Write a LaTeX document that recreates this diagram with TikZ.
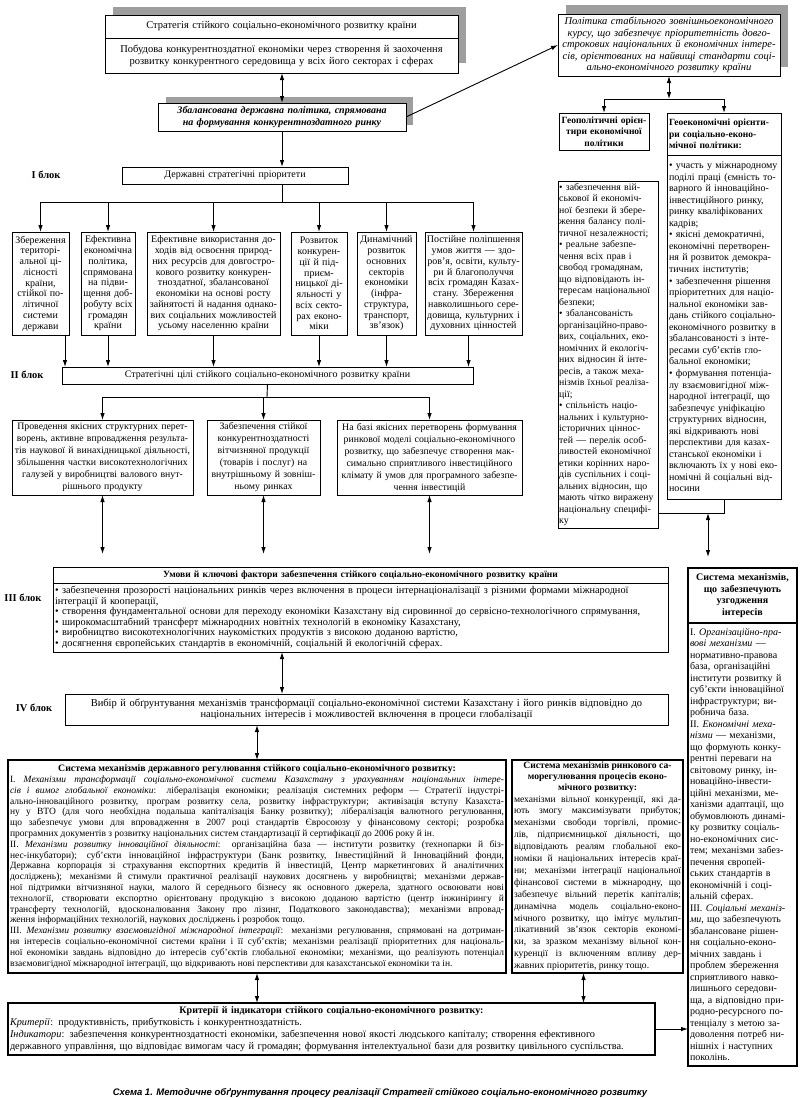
\documentclass[tikz,border=0pt]{standalone}
\usepackage{fontspec}
\setmainfont{Liberation Serif}
\newfontfamily\capfont{Liberation Sans}
\usetikzlibrary{arrows.meta}
\setlength\parindent{0pt}
\newcommand\fs[2]{\fontsize{#1}{#2}\selectfont}
\tikzset{
  bx/.style={draw, line width=1pt, fill=white, anchor=north west, inner xsep=2pt, inner ysep=1pt, outer sep=0pt},
  bxs/.style={bx, inner xsep=1.5pt},
  arr/.style={-{Latex[length=7pt,width=4.5pt]}, line width=0.9pt},
  darr/.style={{Latex[length=7pt,width=4.5pt]}-{Latex[length=7pt,width=4.5pt]}, line width=0.9pt},
  ln/.style={line width=0.9pt},
  shd/.style={fill=black!38},
  lbl/.style={font=\fs{10.5}{12}\bfseries}
}
\begin{document}
\begin{tikzpicture}[x=1pt,y=-1pt]
\fill[white] (0,0) rectangle (800,1098);
\useasboundingbox (0,0) rectangle (800,1098);

% ---------- top ----------
\fill[shd] (113,7) rectangle (466,63);
\node[bx, minimum width=353pt, minimum height=23pt, text width=349pt, align=center, font=\fs{10.5}{12}] (T1a) at (105,15)
 {Стратегія стійкого соціально-економічного розвитку країни};
\node[bx, minimum width=353pt, minimum height=35pt, text width=349pt, align=center, font=\fs{10.5}{12}] (T1b) at (105,38)
 {Побудова конкурентноздатної економіки через створення й заохочення\\розвитку конкурентного середовища у всіх його секторах і сферах};

\fill[shd] (166,97) rectangle (413,125);
\node[bx, minimum width=248pt, minimum height=28pt, text width=244pt, align=center, font=\fs{10}{11.5}\bfseries\itshape] (T2) at (158,103)
 {Збалансована державна політика, спрямована\\на формування конкурентноздатного ринку};

\fill[shd] (566,5) rectangle (788,67);
\node[bx, minimum width=222pt, minimum height=62pt, text width=218pt, align=center, font=\fs{10.5}{11.6}\itshape] (P) at (558,14)
 {Політика стабільного зовнішньоекономічного\\курсу, що забезпечує пріоритетність довго-\\строкових національних й економічних інтере-\\сів, орієнтованих на найвищі стандарти соці-\\ально-економічного розвитку країни};

% ---------- right column ----------
\node[bxs, minimum width=90pt, minimum height=37pt, text width=87pt, align=center, font=\fs{9.5}{11.5}\bfseries] (G1) at (559,113)
 {Геополітичні орієн-\\тири економічної\\політики};
\node[bx, minimum width=114pt, minimum height=42pt, text width=110pt, align=left, font=\fs{9.5}{11.5}\bfseries] (G2h) at (667,113)
 {Геоекономічні орієнти-\\ри соціально-еконо-\\мічної політики:};
\node[bx, minimum width=114pt, minimum height=344pt, text width=110pt, align=left, font=\fs{10}{11.55}] (G2L) at (667,155)
 {• участь у міжнародному\\поділі праці (ємність то-\\варного й інноваційно-\\інвестиційного ринку,\\ринку кваліфікованих\\кадрів;\\• якісні демократичні,\\економічні перетворен-\\ня й розвиток демокра-\\тичних інститутів;\\• забезпечення рішення\\пріоритетних для націо-\\нальної економіки зав-\\дань стійкого соціально-\\економічного розвитку в\\збалансованості з інте-\\ресами суб’єктів гло-\\бальної економіки;\\• формування потенціа-\\лу взаємовигідної між-\\народної інтеграції, що\\забезпечує уніфікацію\\структурних відносин,\\які відкривають нові\\перспективи для казах-\\станської економіки і\\включають їх у нові еко-\\номічні й соціальні від-\\носини};
\node[bx, inner xsep=1.2pt, minimum width=100pt, minimum height=347pt, text width=97.6pt, align=left, font=\fs{9.8}{11.5}] (G1L) at (558,181)
 {• забезпечення вій-\\ськової й економіч-\\ної безпеки й збере-\\ження балансу полі-\\тичної незалежності;\\• реальне забезпе-\\чення всіх прав і\\свобод громадянам,\\що відповідають ін-\\тересам національної\\безпеки;\\• збалансованість\\організаційно-право-\\вих, соціальних, еко-\\номічних й екологіч-\\них відносин й інте-\\ресів, а також меха-\\нізмів їхньої реаліза-\\ції;\\• спільність націо-\\нальних і культурно-\\історичних ціннос-\\тей — перелік особ-\\ливостей економічної\\етики корінних наро-\\дів суспільних і соці-\\альних відносин, що\\мають чітко виражену\\національну специфі-\\ку};

% ---------- block I ----------
\node[lbl] (L1) at (46,175) {I блок};
\node[bx, minimum width=226pt, minimum height=17pt, text width=222pt, align=center, font=\fs{10}{12}] (DSP) at (122,167)
 {Державні стратегічні пріоритети};

\node[bxs, minimum width=57pt, minimum height=103pt, text width=54pt, align=center, font=\fs{10}{10.75}] (B1) at (12,232)
 {Збереження\\територі-\\альної ці-\\лісності\\країни,\\стійкої по-\\літичної\\системи\\держави};
\node[bxs, minimum width=54pt, minimum height=103pt, text width=51pt, align=center, font=\fs{10}{10.75}] (B2) at (81,232)
 {Ефективна\\економічна\\політика,\\спрямована\\на підви-\\щення доб-\\робуту всіх\\громадян\\країни};
\node[bxs, minimum width=133pt, minimum height=103pt, text width=130pt, align=center, font=\fs{10}{10.75}] (B3) at (147,232)
 {Ефективне використання до-\\ходів від освоєння природ-\\них ресурсів для довгостро-\\кового розвитку конкурен-\\тноздатної, збалансованої\\економіки на основі росту\\зайнятості й надання однако-\\вих соціальних можливостей\\усьому населенню країни};
\node[bxs, minimum width=56pt, minimum height=103pt, text width=53pt, align=center, font=\fs{10}{10.75}] (B4) at (291,232)
 {Розвиток\\конкурен-\\ції й під-\\приєм-\\ницької ді-\\яльності у\\всіх секто-\\рах еконо-\\міки};
\node[bxs, minimum width=59pt, minimum height=103pt, text width=56pt, align=center, font=\fs{10}{10.75}] (B5) at (357,232)
 {Динамічний\\розвиток\\основних\\секторів\\економіки\\(інфра-\\структура,\\транспорт,\\зв’язок)};
\node[bxs, minimum width=97pt, minimum height=103pt, text width=94pt, align=center, font=\fs{10}{10.75}] (B6) at (425,232)
 {Постійне поліпшення\\умов життя — здо-\\ров’я, освіти, культу-\\ри й благополуччя\\всіх громадян Казах-\\стану. Збереження\\навколишнього сере-\\довища, культурних і\\духовних цінностей};

% ---------- block II ----------
\node[lbl] (L2) at (27,375) {II блок};
\node[bx, minimum width=411pt, minimum height=17pt, text width=407pt, align=center, font=\fs{10}{12}] (II) at (62,367)
 {Стратегічні цілі стійкого соціально-економічного розвитку країни};

\node[bxs, minimum width=181pt, minimum height=75pt, text width=178pt, align=center, font=\fs{9.8}{12}] (A) at (12,420)
 {Проведення якісних структурних перет-\\ворень, активне впровадження результа-\\тів наукової й винахідницької діяльності,\\збільшення частки високотехнологічних\\галузей у виробництві валового внут-\\рішнього продукту};
\node[bxs, minimum width=113pt, minimum height=75pt, text width=110pt, align=center, font=\fs{9.8}{12}] (B) at (207,420)
 {Забезпечення стійкої\\конкурентноздатності\\вітчизняної продукції\\(товарів і послуг) на\\внутрішньому й зовніш-\\ньому ринках};
\node[bxs, minimum width=185pt, minimum height=75pt, text width=182pt, align=center, font=\fs{9.8}{12}] (C) at (337,420)
 {На базі якісних перетворень формування\\ринкової моделі соціально-економічного\\розвитку, що забезпечує створення мак-\\симально сприятливого інвестиційного\\клімату й умов для програмного забезпе-\\чення інвестицій};

% ---------- block III ----------
\node[lbl] (L3) at (23,598) {III блок};
\node[bx, minimum width=615pt, minimum height=16pt, text width=611pt, align=center, font=\fs{9.5}{11}\bfseries] (IIIh) at (53,567)
 {Умови й ключові фактори забезпечення стійкого соціально-економічного розвитку країни};
\node[bx, minimum width=615pt, minimum height=69pt, text width=611pt, align=left, font=\fs{10.3}{10.5}] (IIIb) at (53,583)
 {• забезпечення прозорості національних ринків через включення в процеси інтернаціоналізації з різними формами міжнародної\\інтеграції й кооперації,\\• створення фундаментальної основи для переходу економіки Казахстану від сировинної до сервісно-технологічного спрямування,\\• широкомасштабний трансферт міжнародних новітніх технологій в економіку Казахстану,\\• виробництво високотехнологічних наукомістких продуктів з високою доданою вартістю,\\• досягнення європейських стандартів в економічній, соціальній й екологічній сферах.};

% ---------- block IV ----------
\node[lbl] (L4) at (34,708) {IV блок};
\node[bx, minimum width=603pt, minimum height=31pt, text width=599pt, align=center, font=\fs{10.5}{11.5}] (IV) at (65,694)
 {Вибір й обґрунтування механізмів трансформації соціально-економічної системи Казахстану і його ринків відповідно до\\національних інтересів і можливостей включення в процеси глобалізації};

% ---------- mechanisms ----------
\node[bx, line width=1.3pt, minimum width=498pt, minimum height=213pt, text width=494pt, align=justify, font=\fs{9.5}{10.8}] (State) at (8,760)
 {{\centering\bfseries\fs{9.8}{10.8}Система механізмів державного регулювання стійкого соціально-економічного розвитку:\par}
 I. \textit{Механізми трансформації соціально-економічної системи Казахстану з урахуванням національних інтере-}\linebreak
 \textit{сів і вимог глобальної економіки}: лібералізація економіки; реалізація системних реформ — Стратегії індустрі-\linebreak
 ально-інноваційного розвитку, програм розвитку села, розвитку інфраструктури; активізація вступу Казахста-\linebreak
 ну у ВТО (для чого необхідна подальша капіталізація Банку розвитку); лібералізація валютного регулювання,\linebreak
 що забезпечує умови для впровадження в 2007 році стандартів Євросоюзу у фінансовому секторі; розробка\linebreak
 програмних документів з розвитку національних систем стандартизації й сертифікації до 2006 року й ін.\par
 II. \textit{Механізми розвитку інноваційної діяльності}: організаційна база — інститути розвитку (технопарки й біз-\linebreak
 нес-інкубатори); суб’єкти інноваційної інфраструктури (Банк розвитку, Інвестиційний й Інноваційний фонди,\linebreak
 Державна корпорація зі страхування експортних кредитів й інвестицій, Центр маркетингових й аналітичних\linebreak
 досліджень); механізми й стимули практичної реалізації наукових досягнень у виробництві; механізми держав-\linebreak
 ної підтримки вітчизняної науки, малого й середнього бізнесу як основного джерела, здатного освоювати нові\linebreak
 технології, створювати експортно орієнтовану продукцію з високою доданою вартістю (центр інжинірингу й\linebreak
 трансферту технологій, вдосконалювання Закону про лізинг, Податкового законодавства); механізми впровад-\linebreak
 ження інформаційних технологій, наукових досліджень і розробок тощо.\par
 III. \textit{Механізми розвитку взаємовигідної міжнародної інтеграції}: механізми регулювання, спрямовані на дотриман-\linebreak
 ня інтересів соціально-економічної системи країни і її суб’єктів; механізми реалізації пріоритетних для національ-\linebreak
 ної економіки завдань відповідно до інтересів суб’єктів глобальної економіки; механізми, що реалізують потенціал\linebreak
 взаємовигідної міжнародної інтеграції, що відкривають нові перспективи для казахстанської економіки та ін.};

\node[bx, line width=1.3pt, minimum width=171pt, minimum height=213pt, text width=167pt, align=justify, font=\fs{9.6}{11.9}] (Market) at (512,760)
 {{\centering\bfseries\fs{9.6}{10.6}Система механізмів ринкового са-\\морегулювання процесів еконо-\\мічного розвитку:\par}
 механізми вільної конкуренції, які да-\linebreak
 ють змогу максимізувати прибуток;\linebreak
 механізми свободи торгівлі, промис-\linebreak
 лів, підприємницької діяльності, що\linebreak
 відповідають реалям глобальної еко-\linebreak
 номіки й національних інтересів краї-\linebreak
 ни; механізми інтеграції національної\linebreak
 фінансової системи в міжнародну, що\linebreak
 забезпечує вільний перетік капіталів;\linebreak
 динамічна модель соціально-еконо-\linebreak
 мічного розвитку, що імітує мультип-\linebreak
 лікативний зв’язок секторів економі-\linebreak
 ки, за зразком механізму вільної кон-\linebreak
 куренції із включенням впливу дер-\linebreak
 жавних пріоритетів, ринку тощо.};

\node[bx, line width=1.3pt, minimum width=109pt, minimum height=55pt, text width=105pt, align=center, font=\fs{10}{11.5}\bfseries] (SYSh) at (688,568)
 {Система механізмів,\\що забезпечують\\узгодження\\інтересів};
\node[bx, line width=1.3pt, minimum width=109pt, minimum height=443pt, text width=105pt, align=left, font=\fs{10}{11.5}] (SYSb) at (688,623)
 {I. \textit{Організаційно-пра-}\\\textit{вові механізми} —\\нормативно-правова\\база, організаційні\\інститути розвитку й\\суб’єкти інноваційної\\інфраструктури; ви-\\робнича база.\\II. \textit{Економічні меха-}\\\textit{нізми} — механізми,\\що формують конку-\\рентні переваги на\\світовому ринку, ін-\\новаційно-інвести-\\ційні механізми, ме-\\ханізми адаптації, що\\обумовлюють динамі-\\ку розвитку соціаль-\\но-економічних сис-\\тем; механізми забез-\\печення європей-\\ських стандартів в\\економічній і соці-\\альній сферах.\\III. \textit{Соціальні механіз-}\\\textit{ми}, що забезпечують\\збалансоване рішен-\\ня соціально-еконо-\\мічних завдань і\\проблем збереження\\сприятливого навко-\\лишнього середови-\\ща, а відповідно при-\\родно-ресурсного по-\\тенціалу з метою за-\\доволення потреб ни-\\нішніх і наступних\\поколінь.};

\node[bx, line width=1.4pt, minimum width=647pt, minimum height=52pt, text width=643pt, align=left, font=\fs{10.3}{11.8}] (Crit) at (8,1003)
 {{\centering\bfseries\fs{10}{12}Критерії й індикатори стійкого соціально-економічного розвитку:\par}
 \textit{Критерії}: продуктивність, прибутковість і конкурентноздатність.\par
 \textit{Індикатори}: забезпечення конкурентноздатності економіки, забезпечення нової якості людського капіталу; створення ефективного\par
 державного управління, що відповідає вимогам часу й громадян; формування інтелектуальної бази для розвитку цивільного суспільства.};

\node[font=\capfont\bfseries\itshape\fs{9.5}{11}] (cap) at (380,1093)
 {Схема 1. Методичне обґрунтування процесу реалізації Стратегії стійкого соціально-економічного розвитку};

% ---------- connectors ----------
\draw[darr] (T2.north |- T1b.south) -- (T2.north);
\draw[arr] (T2.east) -- (P.west);
\coordinate (pj) at (669,99);
\draw[darr] (P.south) -- (pj);
\draw[arr] (pj) -| (G1.north);
\draw[arr] (pj) -| (G2h.north);
\coordinate (gj) at (708,513);
\draw[ln] (gj -| G1L.east) -- (gj -| G2L.south) -- (G2L.south);
\draw[darr, shorten >=11pt] (gj) -- (gj |- SYSh.north);

\draw[arr] (T2.south) -- (T2.south |- DSP.north);
\coordinate (dj) at (282,202);
\draw[ln] (DSP.south -| dj) -- (dj);
\foreach \b in {B1,B2,B3,B4,B5,B6} \draw[arr] (dj) -| (\b.north);

\coordinate (b1s) at ([xshift=-4pt]B1.south east);
\coordinate (b6s) at ([xshift=-5pt]B6.south);
\draw[arr] (b1s) -- (b1s |- II.north);
\foreach \b in {B2,B3,B4,B5} \draw[arr] (\b.south) -- (\b.south |- II.north);
\draw[arr] (b6s) -- (b6s |- II.north);

\coordinate (ij) at (267,397);
\draw[ln] (II.south) -- (ij);
\foreach \b in {A,B,C} \draw[arr] (ij) -| (\b.north);
\foreach \b in {A,B,C} \draw[darr, shorten >=13pt] (\b.south) -- (\b.south |- IIIh.north);

\draw[darr] (IIIb.south -| dj) -- (IV.north -| dj);
\draw[darr] (IV.south -| State.north) -- (State.north);
\draw[darr] (State.south) -- (State.south |- Crit.north);
\coordinate (ms) at ([xshift=-14pt]Market.south);
\draw[darr] (ms) -- (ms |- Crit.north);
\draw[arr] (Crit.east) -- (Crit.east -| SYSb.west);
\end{tikzpicture}
\end{document}
